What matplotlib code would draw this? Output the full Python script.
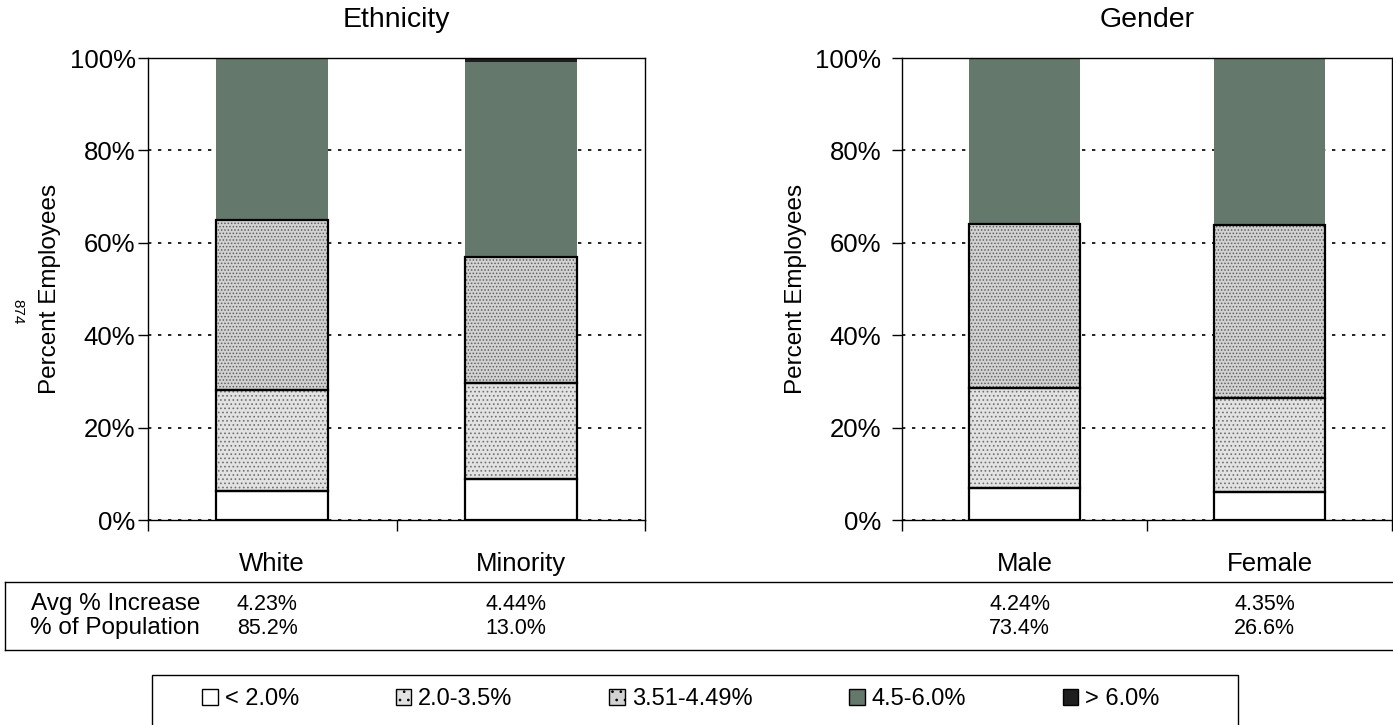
import numpy as np
import matplotlib
matplotlib.use('Agg')
import matplotlib.pyplot as plt
from matplotlib.patches import Rectangle, Patch
from matplotlib.lines import Line2D
from matplotlib.transforms import blended_transform_factory

# ---------------- data ----------------
eth_categories = ['White', 'Minority']
eth_lt2 = [6.3, 8.8]
eth_2_35 = [21.8, 20.8]
eth_351_449 = [36.8, 27.3]
eth_45_6 = [35.1, 42.3]
eth_gt6 = [0.0, 0.8]

gen_categories = ['Male', 'Female']
gen_lt2 = [7.0, 6.1]
gen_2_35 = [21.6, 20.4]
gen_351_449 = [35.5, 37.4]
gen_45_6 = [35.6, 36.1]
gen_gt6 = [0.3, 0.0]

legend_labels = ['< 2.0%', '2.0-3.5%', '3.51-4.49%', '4.5-6.0%', '> 6.0%']
row_labels = ['Avg % Increase', '% of Population']
eth_avg_increase = ['4.23%', '4.44%']
eth_population = ['85.2%', '13.0%']
gen_avg_increase = ['4.24%', '4.35%']
gen_population = ['73.4%', '26.6%']
y_ticks = [0, 20, 40, 60, 80, 100]
y_tick_labels = ['0%', '20%', '40%', '60%', '80%', '100%']
titles = ['Ethnicity', 'Gender']
ylabel = 'Percent Employees'
page_number = '874'

# ---------------- style ----------------
plt.rcParams['font.family'] = ['Liberation Sans', 'DejaVu Sans']
plt.rcParams['hatch.linewidth'] = 0.7

W, H = 1393, 725
fig = plt.figure(figsize=(W / 100, H / 100), dpi=100)


def fx(px):
    return px / W


def fy(py):
    return 1 - py / H


styles = [
    dict(fc='white', hatch=None, hc='white', outline=True),
    dict(fc='#e2e2e2', hatch='....', hc='#707070', outline=True),
    dict(fc='#d2d2d2', hatch='.....', hc='#606060', outline=True),
    dict(fc='#64786c', hatch=None, hc='#64786c', outline=False),
    dict(fc='#1e1e1e', hatch=None, hc='#1e1e1e', outline=False),
]


def draw_panel(ax, cats, series, title, tickpad):
    x = np.arange(len(cats))
    bottom = np.zeros(len(cats))
    for vals, st in zip(series, styles):
        vals = np.asarray(vals, dtype=float)
        ax.bar(x, vals, width=0.45, bottom=bottom, color=st['fc'],
               hatch=st['hatch'], edgecolor=st['hc'], linewidth=0, zorder=2)
        if st['outline']:
            ax.bar(x, vals, width=0.45, bottom=bottom, fill=False,
                   edgecolor='black', linewidth=1.6, zorder=3)
        bottom += vals
    ax.set_xlim(-0.5, len(cats) - 0.5)
    ax.set_ylim(0, 100)
    ax.set_yticks(y_ticks)
    ax.set_yticklabels(y_tick_labels, fontsize=18.5)
    ax.tick_params(axis='y', direction='out', length=7, width=1, pad=tickpad)
    ax.set_xticks(x)
    ax.set_xticklabels(cats, fontsize=18.5)
    ax.tick_params(axis='x', which='major', length=0, pad=23)
    ax.set_xticks(np.arange(-0.5, len(cats) - 0.4, 1.0), minor=True)
    ax.tick_params(axis='x', which='minor', direction='out', length=8, width=1)
    ax.yaxis.grid(True, linestyle=(0, (2, 4)), color='black', linewidth=1.2)
    ax.set_axisbelow(True)
    for s in ax.spines.values():
        s.set_linewidth(1.0)
    ax.set_title(title, fontsize=20.5, pad=22)
    ax.set_ylabel(ylabel, fontsize=17.5, labelpad=6)


ax1 = fig.add_axes([fx(148), fy(520), fx(645) - fx(148), fy(58) - fy(520)])
ax2 = fig.add_axes([fx(902), fy(520), fx(1392) - fx(902), fy(58) - fy(520)])

draw_panel(ax1, eth_categories, [eth_lt2, eth_2_35, eth_351_449, eth_45_6, eth_gt6], titles[0], 2)
draw_panel(ax2, gen_categories, [gen_lt2, gen_2_35, gen_351_449, gen_45_6, gen_gt6], titles[1], 8)

# page number
fig.text(fx(17), fy(312), page_number, rotation=-90, fontsize=11, ha='center', va='center')

# ---------------- table ----------------
line_kw = dict(color='black', linewidth=1.0, transform=fig.transFigure)
fig.add_artist(Line2D([fx(5), fx(1393)], [fy(582), fy(582)], **line_kw))
fig.add_artist(Line2D([fx(5), fx(1393)], [fy(650), fy(650)], **line_kw))
fig.add_artist(Line2D([fx(5), fx(5)], [fy(582), fy(650)], **line_kw))

row_y = [fy(604), fy(628)]
for lab, yy in zip(row_labels, row_y):
    fig.text(fx(200), yy, lab, fontsize=17.5, ha='right', va='center')

for ax, cats, rows in [(ax1, eth_categories, [eth_avg_increase, eth_population]),
                       (ax2, gen_categories, [gen_avg_increase, gen_population])]:
    tr = blended_transform_factory(ax.transData, fig.transFigure)
    for vals, yy in zip(rows, row_y):
        for i, v in enumerate(vals):
            fig.text(i - 0.02, yy, v, fontsize=15.5, ha='center', va='center', transform=tr)

# ---------------- legend ----------------
handles = [Patch(facecolor=st['fc'], edgecolor='black', hatch=None if st['hatch'] is None else '..',
                 linewidth=1.0) for st in styles]
leg = fig.legend(handles, legend_labels, ncol=5, loc='center left',
                 bbox_to_anchor=(fx(181), fy(699)), frameon=False, fontsize=17,
                 handlelength=0.65, handleheight=0.65, handletextpad=0.3,
                 columnspacing=4.1)
fig.add_artist(Rectangle((fx(152), fy(740)), fx(1238) - fx(152), fy(675) - fy(740),
                         transform=fig.transFigure, fill=False, edgecolor='black',
                         linewidth=1.0, clip_on=False))

fig.savefig('out.png', dpi=100)
